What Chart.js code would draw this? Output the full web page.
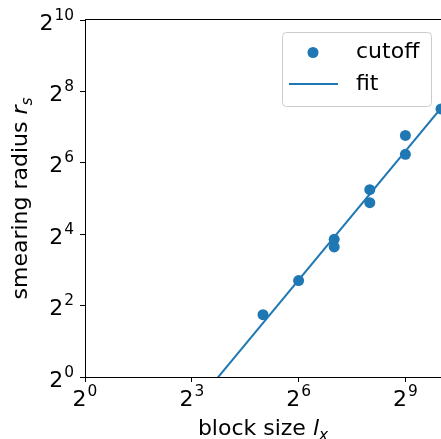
<!DOCTYPE html>
<html>
<head>
<meta charset="utf-8">
<script src="https://cdn.jsdelivr.net/npm/chart.js@4/dist/chart.umd.min.js"></script>
<style>
  html, body { margin: 0; padding: 0; background: #fff; }
  canvas { display: block; }
</style>
</head>
<body>
<canvas id="chart" width="441" height="439"></canvas>
<script>
const cutoffX = [32, 64, 128, 128, 256, 256, 512, 512, 1024]
const cutoffY = [3.35, 6.5, 14.5, 12.5, 38, 29.5, 109, 75.5, 182]
const fitX = [1, 1024]
const fitY = [0.044, 185]

// tick values and their base-2 exponents (labels are 2^exp)
const xTicks = [1, 8, 64, 512]
const xTickExp = ['0', '3', '6', '9']
const yTicks = [1, 4, 16, 64, 256, 1024]
const yTickExp = ['0', '2', '4', '6', '8', '10']

const blue = '#1f77b4'
const font = '"DejaVu Sans", sans-serif'
const fs = 22

function setFont (ctx, size, italic) {
  ctx.font = (italic ? 'italic ' : '') + size + 'px ' + font
}

// label with an italic symbol and an italic subscript, centred on x
function mathLabel (ctx, parts, x, y, size) {
  const widths = parts.map((p) => {
    setFont(ctx, p.sub ? size * 0.7 : size, p.italic)
    return ctx.measureText(p.text).width
  })
  let cx = x - widths.reduce((a, b) => a + b, 0) / 2
  parts.forEach((p, i) => {
    setFont(ctx, p.sub ? size * 0.7 : size, p.italic)
    ctx.fillText(p.text, cx, y + (p.sub ? size * 0.22 : 0))
    cx += widths[i]
  })
}

// "2" with a superscript exponent; align is 'center' or 'right'
function powerLabel (ctx, exp, x, baseline, align) {
  setFont(ctx, fs)
  const wb = ctx.measureText('2').width
  setFont(ctx, fs * 0.7)
  const we = ctx.measureText(exp).width
  const total = wb + 1 + we
  const left = align === 'right' ? x - total : x - total / 2
  setFont(ctx, fs)
  ctx.fillText('2', left, baseline)
  setFont(ctx, fs * 0.7)
  ctx.fillText(exp, left + wb + 1, baseline - 10)
}

const extras = {
  id: 'extras',
  afterDraw (chart) {
    const { ctx, chartArea: ca } = chart
    const xs = chart.scales.x, ys = chart.scales.y
    ctx.save()

    // top spine
    ctx.strokeStyle = '#000'
    ctx.lineWidth = 1
    ctx.beginPath()
    ctx.moveTo(ca.left, Math.round(ca.top) - 0.5)
    ctx.lineTo(ca.right, Math.round(ca.top) - 0.5)
    ctx.stroke()

    ctx.fillStyle = '#000'
    ctx.textAlign = 'left'
    ctx.textBaseline = 'alphabetic'

    // tick labels
    xs.ticks.forEach((t) => {
      const i = xTicks.indexOf(t.value)
      powerLabel(ctx, xTickExp[i], xs.getPixelForValue(t.value), ca.bottom + 29, 'center')
    })
    ys.ticks.forEach((t) => {
      const i = yTicks.indexOf(t.value)
      powerLabel(ctx, yTickExp[i], ca.left - 11, ys.getPixelForValue(t.value) + 9.5, 'right')
    })

    // axis titles
    mathLabel(ctx, [
      { text: 'block size ' },
      { text: 'l', italic: true },
      { text: 'x', italic: true, sub: true }
    ], (ca.left + ca.right) / 2, 435, fs)

    ctx.save()
    ctx.translate(27, (ca.top + ca.bottom) / 2)
    ctx.rotate(-Math.PI / 2)
    mathLabel(ctx, [
      { text: 'smearing radius ' },
      { text: 'r', italic: true },
      { text: 's', italic: true, sub: true }
    ], 0, 0, fs)
    ctx.restore()

    // legend
    const bw = 149, bh = 74
    const bx = ca.right - 10 - bw, by = ca.top + 12
    ctx.beginPath()
    ctx.roundRect(bx + 0.5, by + 0.5, bw, bh, 4)
    ctx.fillStyle = 'rgba(255,255,255,0.8)'
    ctx.fill()
    ctx.strokeStyle = '#cccccc'
    ctx.lineWidth = 1
    ctx.stroke()

    const ds = chart.data.datasets
    ctx.fillStyle = blue
    ctx.beginPath()
    ctx.arc(bx + 31, by + 20.5, 5.5, 0, Math.PI * 2)
    ctx.fill()
    ctx.strokeStyle = blue
    ctx.lineWidth = 2
    ctx.beginPath()
    ctx.moveTo(bx + 7, by + 52)
    ctx.lineTo(bx + 56, by + 52)
    ctx.stroke()

    ctx.fillStyle = '#000'
    setFont(ctx, fs)
    ctx.textBaseline = 'middle'
    ctx.fillText(ds[0].label, bx + 74, by + 20)
    ctx.fillText(ds[1].label, bx + 74, by + 52)

    ctx.restore()
  }
}

const axisCommon = {
  type: 'logarithmic',
  min: 1,
  max: 1024,
  grid: { display: true, drawOnChartArea: false, drawTicks: true, tickLength: 5, color: '#000', lineWidth: 1 },
  border: { display: true, color: '#000', width: 1 },
  ticks: { display: false, autoSkip: false }
}

new Chart(document.getElementById('chart'), {
  type: 'scatter',
  data: {
    datasets: [
      {
        label: 'cutoff',
        data: cutoffX.map((x, i) => ({ x, y: cutoffY[i] })),
        backgroundColor: blue,
        borderColor: blue,
        pointRadius: 5.5,
        pointBorderWidth: 0,
        order: 1
      },
      {
        label: 'fit',
        type: 'line',
        data: fitX.map((x, i) => ({ x, y: fitY[i] })),
        borderColor: blue,
        borderWidth: 2,
        pointRadius: 0,
        showLine: true,
        order: 2
      }
    ]
  },
  options: {
    responsive: false,
    animation: false,
    devicePixelRatio: 1,
    layout: { autoPadding: false, padding: { top: 20, left: 0, right: 0, bottom: 0 } },
    plugins: { legend: { display: false }, tooltip: { enabled: false } },
    scales: {
      x: {
        ...axisCommon,
        afterBuildTicks: (s) => { s.ticks = xTicks.map((v) => ({ value: v })) },
        afterFit: (s) => { s.height = 62; s.paddingLeft = 0; s.paddingRight = 0 }
      },
      y: {
        ...axisCommon,
        afterBuildTicks: (s) => { s.ticks = yTicks.map((v) => ({ value: v })) },
        afterFit: (s) => { s.width = 85; s.paddingTop = 0; s.paddingBottom = 0 }
      }
    }
  },
  plugins: [extras]
})
</script>
</body>
</html>
